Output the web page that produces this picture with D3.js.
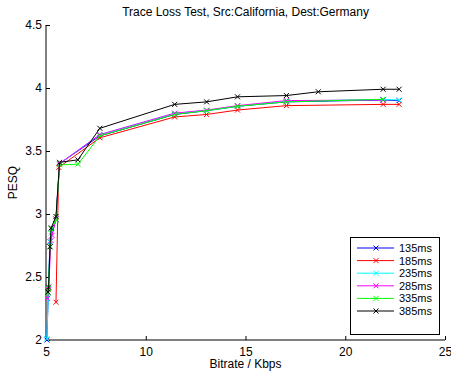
<!DOCTYPE html>
<html>
<head>
<meta charset="utf-8">
<script src="https://cdn.jsdelivr.net/npm/d3@7"></script>
<style>
  body { margin: 0; background: #fff; }
  svg { display: block; font-family: "Liberation Sans", Arial, sans-serif; }
</style>
</head>
<body>
<svg id="chart" width="451" height="374"></svg>
<script>
// data: [bitrate Kbps, PESQ]
const s135 = [[5.04, 2.0], [5.2, 2.78], [5.5, 2.96], [5.68, 3.4], [7.7, 3.62], [11.45, 3.79], [13.05, 3.82], [14.6, 3.855], [17.05, 3.89], [21.9, 3.905], [22.7, 3.9]];
const s185 = [[5.5, 2.3], [5.64, 3.37], [7.7, 3.605], [11.45, 3.77], [13.05, 3.79], [14.6, 3.825], [17.05, 3.86], [21.9, 3.87], [22.7, 3.87]];
const s235 = [[5.04, 2.01], [5.2, 2.78], [5.26, 2.85], [5.5, 2.96], [5.68, 3.4], [7.7, 3.63], [11.45, 3.8], [13.05, 3.82], [14.6, 3.855], [17.05, 3.895], [21.9, 3.91], [22.7, 3.905]];
const s285 = [[5.08, 2.33], [5.13, 2.4], [5.25, 2.79], [5.3, 2.83], [5.5, 2.96], [5.68, 3.4], [7.7, 3.63], [11.45, 3.8], [13.05, 3.825], [14.6, 3.86], [17.05, 3.9], [21.9, 3.905]];
const s335 = [[5.1, 2.37], [5.13, 2.41], [5.2, 2.74], [5.26, 2.88], [5.5, 2.95], [5.68, 3.39], [6.6, 3.395], [7.7, 3.62], [11.45, 3.79], [13.05, 3.82], [14.6, 3.855], [17.05, 3.89], [21.9, 3.91]];
const s385 = [[5.1, 2.38], [5.13, 2.42], [5.2, 2.74], [5.26, 2.89], [5.5, 2.98], [5.68, 3.41], [6.6, 3.43], [7.7, 3.68], [11.45, 3.87], [13.05, 3.89], [14.6, 3.93], [17.05, 3.94], [18.65, 3.97], [21.9, 3.99], [22.7, 3.99]];

const seriesNames = ['135ms', '185ms', '235ms', '285ms', '335ms', '385ms'];
const seriesColors = ['#0000ff', '#ff0000', '#00ffff', '#ff00ff', '#00ff00', '#000000'];
const seriesData = [s135, s185, s235, s285, s335, s385];

const xTicks = [5, 10, 15, 20, 25];
const yTicks = [2, 2.5, 3, 3.5, 4, 4.5];

const svg = d3.select('#chart');
const plotL = 46, plotR = 445, plotT = 25, plotB = 340;
const FONT = '12px';

const x = d3.scaleLinear().domain([5, 25]).range([plotL, plotR]);
const y = d3.scaleLinear().domain([2, 4.5]).range([plotB, plotT]);

// axes, matlab style: ticks pointing inward, no box
const xAxis = d3.axisBottom(x).tickValues(xTicks).tickSize(-4).tickPadding(7).tickFormat(d3.format('d'));
const yAxis = d3.axisLeft(y).tickValues(yTicks).tickSize(-4).tickPadding(4).tickFormat(d => d);

const gx = svg.append('g').attr('transform', `translate(0,${plotB})`).call(xAxis);
const gy = svg.append('g').attr('transform', `translate(${plotL},0)`).call(yAxis);

[gx, gy].forEach(g => {
  g.select('.domain').attr('stroke', '#000').attr('stroke-width', 1);
  g.selectAll('.tick line').attr('stroke', '#000');
  g.selectAll('.tick text').attr('fill', '#000').attr('font-size', FONT)
    .attr('font-family', '"Liberation Sans", Arial, sans-serif');
});
gx.select('.domain').attr('d', `M${plotL},0H${plotR}`);
gy.select('.domain').attr('d', `M0,${plotB}V${plotT}`);

// title and labels
svg.append('text')
  .attr('x', (plotL + plotR) / 2).attr('y', 16)
  .attr('text-anchor', 'middle').attr('font-size', FONT)
  .text('Trace Loss Test, Src:California, Dest:Germany');

svg.append('text')
  .attr('x', (plotL + plotR) / 2).attr('y', 368)
  .attr('text-anchor', 'middle').attr('font-size', FONT)
  .text('Bitrate / Kbps');

svg.append('text')
  .attr('transform', `translate(17,${(plotT + plotB) / 2}) rotate(-90)`)
  .attr('text-anchor', 'middle').attr('font-size', FONT)
  .text('PESQ');

// lines + x markers
const line = d3.line().x(d => x(d[0])).y(d => y(d[1]));
const m = 2.5;
const xMark = (cx, cy) => `M${cx - m},${cy - m}L${cx + m},${cy + m}M${cx - m},${cy + m}L${cx + m},${cy - m}`;

const plot = svg.append('g');
seriesData.forEach((data, i) => {
  const g = plot.append('g');
  g.append('path')
    .attr('d', line(data))
    .attr('fill', 'none')
    .attr('stroke', seriesColors[i])
    .attr('stroke-width', 1);
  g.selectAll('path.mk').data(data).join('path')
    .attr('class', 'mk')
    .attr('d', d => xMark(x(d[0]), y(d[1])))
    .attr('stroke', seriesColors[i])
    .attr('stroke-width', 1);
});

// legend
const rowH = 12.6;
const lg = svg.append('g');
lg.append('rect')
  .attr('x', 350.5).attr('y', 237.5).attr('width', 89).attr('height', 97)
  .attr('fill', '#fff').attr('stroke', '#000').attr('stroke-width', 1);
seriesNames.forEach((name, i) => {
  const ly = 248 + i * rowH;
  lg.append('line')
    .attr('x1', 357).attr('x2', 394).attr('y1', ly).attr('y2', ly)
    .attr('stroke', seriesColors[i]);
  lg.append('path').attr('d', xMark(376, ly)).attr('stroke', seriesColors[i]);
  lg.append('text')
    .attr('x', 399).attr('y', ly + 4)
    .attr('font-size', '11px')
    .text(name);
});
</script>
</body>
</html>
